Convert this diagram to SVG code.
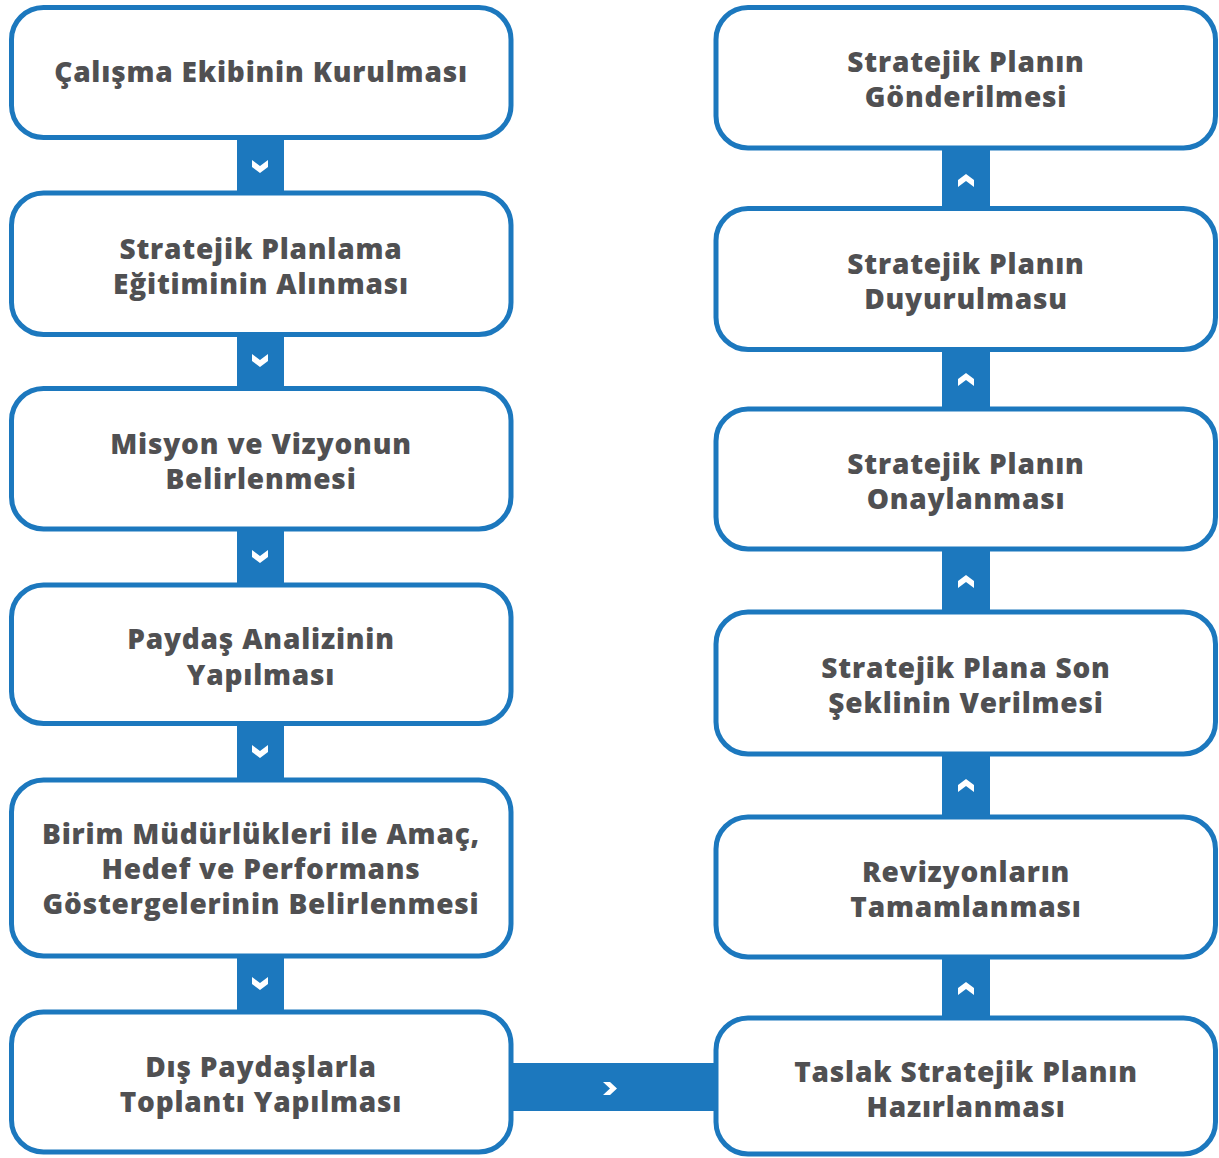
<svg xmlns="http://www.w3.org/2000/svg" width="1219" height="1158" viewBox="0 0 1219 1158">
<style>
.box{fill:#fff;stroke:#1c78be;stroke-width:5}
.conn{fill:#1c78be}
.chev{fill:#fff}
.t{font-family:"Open Sans","Liberation Sans",sans-serif;font-weight:800;font-size:28px;letter-spacing:0.8px;fill:#505052;text-anchor:middle;dominant-baseline:central}
</style>
<rect width="1219" height="1158" fill="#fff"/>
<g id="connectors">
<rect class="conn" x="237" y="137" width="47" height="57"/>
<polygon class="chev" points="252,160 260,166 268,160 268,167 260,173 252,167"/>
<rect class="conn" x="237" y="333" width="47" height="57"/>
<polygon class="chev" points="252,354 260,360 268,354 268,361 260,367 252,361"/>
<rect class="conn" x="237" y="528" width="47" height="58"/>
<polygon class="chev" points="252,550 260,556 268,550 268,557 260,563 252,557"/>
<rect class="conn" x="237" y="722" width="47" height="59"/>
<polygon class="chev" points="252,745 260,751 268,745 268,752 260,758 252,752"/>
<rect class="conn" x="237" y="955" width="47" height="58"/>
<polygon class="chev" points="252,977 260,983 268,977 268,984 260,990 252,984"/>
<rect class="conn" x="511" y="1063" width="205" height="48"/>
<polygon class="chev" points="603,1082 610,1088.5 603,1095 610,1095 617,1088.5 610,1082"/>
<rect class="conn" x="942" y="956" width="48" height="63"/>
<polygon class="chev" points="958,995 966,989 974,995 974,988 966,982 958,988"/>
<rect class="conn" x="942" y="752" width="48" height="66"/>
<polygon class="chev" points="958,792 966,786 974,792 974,785 966,779 958,785"/>
<rect class="conn" x="942" y="548" width="48" height="66"/>
<polygon class="chev" points="958,588 966,582 974,588 974,581 966,575 958,581"/>
<rect class="conn" x="942" y="348" width="48" height="62"/>
<polygon class="chev" points="958,386 966,380 974,386 974,379 966,373 958,379"/>
<rect class="conn" x="942" y="147" width="48" height="63"/>
<polygon class="chev" points="958,187 966,181 974,187 974,180 966,174 958,180"/>
</g>
<g id="n1"><rect class="box" x="11.5" y="7.5" width="499.5" height="130" rx="32"/><text class="t" x="261" y="71">Çalışma Ekibinin Kurulması</text></g>
<g id="n2"><rect class="box" x="11.5" y="193" width="499.5" height="141.5" rx="32"/><text class="t" x="261" y="248">Stratejik Planlama</text><text class="t" x="261" y="283">Eğitiminin Alınması</text></g>
<g id="n3"><rect class="box" x="11.5" y="388.5" width="499.5" height="140.5" rx="32"/><text class="t" x="261" y="443">Misyon ve Vizyonun</text><text class="t" x="261" y="478">Belirlenmesi</text></g>
<g id="n4"><rect class="box" x="11.5" y="585" width="499.5" height="138.5" rx="32"/><text class="t" x="261" y="638">Paydaş Analizinin</text><text class="t" x="261" y="674">Yapılması</text></g>
<g id="n5"><rect class="box" x="11.5" y="780" width="499.5" height="176" rx="32"/><text class="t" x="261" y="833">Birim Müdürlükleri ile Amaç,</text><text class="t" x="261" y="868">Hedef ve Performans</text><text class="t" x="261" y="903">Göstergelerinin Belirlenmesi</text></g>
<g id="n6"><rect class="box" x="11.5" y="1012" width="499.5" height="140" rx="32"/><text class="t" x="261" y="1066">Dış Paydaşlarla</text><text class="t" x="261" y="1101">Toplantı Yapılması</text></g>
<g id="n7"><rect class="box" x="716" y="1018" width="499.5" height="136" rx="32"/><text class="t" x="966" y="1071">Taslak Stratejik Planın</text><text class="t" x="966" y="1106">Hazırlanması</text></g>
<g id="n8"><rect class="box" x="716" y="817" width="499.5" height="140" rx="32"/><text class="t" x="966" y="871">Revizyonların</text><text class="t" x="966" y="906">Tamamlanması</text></g>
<g id="n9"><rect class="box" x="716" y="612" width="499.5" height="142" rx="32"/><text class="t" x="966" y="667">Stratejik Plana Son</text><text class="t" x="966" y="702">Şeklinin Verilmesi</text></g>
<g id="n10"><rect class="box" x="716" y="409" width="499.5" height="140" rx="32"/><text class="t" x="966" y="463">Stratejik Planın</text><text class="t" x="966" y="498">Onaylanması</text></g>
<g id="n11"><rect class="box" x="716" y="208.5" width="499.5" height="141" rx="32"/><text class="t" x="966" y="263">Stratejik Planın</text><text class="t" x="966" y="298">Duyurulmasu</text></g>
<g id="n12"><rect class="box" x="716" y="7.5" width="499.5" height="140.5" rx="32"/><text class="t" x="966" y="61">Stratejik Planın</text><text class="t" x="966" y="96">Gönderilmesi</text></g>
</svg>
